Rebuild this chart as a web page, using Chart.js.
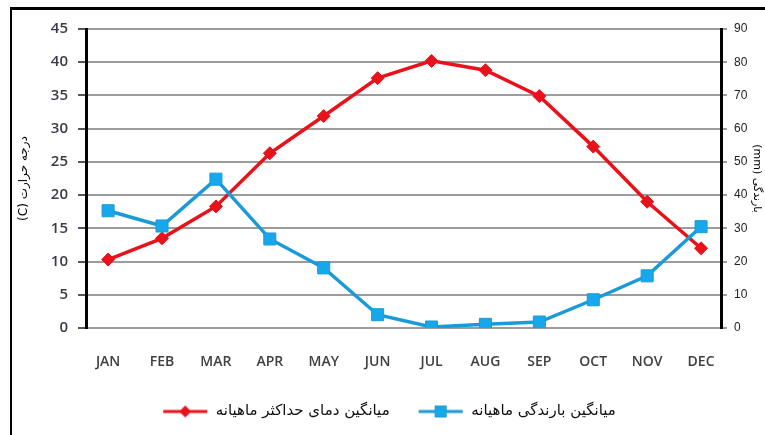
<!DOCTYPE html>
<html>
<head>
<meta charset="utf-8">
<script src="https://cdn.jsdelivr.net/npm/chart.js@4"></script>
<style>
  html, body { margin: 0; padding: 0; background: #fff; overflow: hidden; }
  #frame { position: absolute; left: 10px; top: 7px; width: 800px; height: 500px;
           border-left: 2px solid #000; border-top: 3px solid #000; }
  #wrap { position: absolute; left: 0; top: 0; width: 765px; height: 435px; }
</style>
</head>
<body>
<div id="frame"></div>
<div id="wrap"><canvas id="chart"></canvas></div>
<script>
'use strict';

const months = ['JAN', 'FEB', 'MAR', 'APR', 'MAY', 'JUN', 'JUL', 'AUG', 'SEP', 'OCT', 'NOV', 'DEC'];
const maxTemp = [10.3, 13.5, 18.3, 26.3, 31.9, 37.6, 40.2, 38.8, 34.9, 27.3, 19.0, 12.0];
const rainfall = [35.3, 30.7, 44.8, 26.8, 18.1, 4.0, 0.3, 1.1, 1.8, 8.5, 15.7, 30.5];
const tempTicks = [0, 45, 5];
const rainTicks = [0, 90, 10];

const tempLabel = 'میانگین دمای حداکثر ماهیانه';
const rainLabel = 'میانگین بارندگی ماهیانه';

const RED = '#e8121b';
const BLUE = '#1b9ad8';
const BLUE_FILL = '#17a8ec';

// legend swatch: short line with the marker on it
function swatch(color, fill, shape) {
  const c = document.createElement('canvas');
  c.width = 46; c.height = 14;
  const g = c.getContext('2d');
  g.strokeStyle = color;
  g.lineWidth = 3;
  g.beginPath(); g.moveTo(1, 7); g.lineTo(45, 7); g.stroke();
  g.fillStyle = fill;
  if (shape === 'diamond') {
    g.beginPath(); g.moveTo(23, 1); g.lineTo(29, 7); g.lineTo(23, 13); g.lineTo(17, 7); g.closePath(); g.fill();
  } else {
    g.fillRect(17, 1, 12, 12);
    g.strokeStyle = color; g.lineWidth = 1; g.strokeRect(17.5, 1.5, 11, 11);
  }
  return c;
}

const ctx = document.getElementById('chart').getContext('2d');
new Chart(ctx, {
  type: 'line',
  data: {
    labels: months,
    datasets: [{
      label: tempLabel,
      data: maxTemp,
      yAxisID: 'y',
      borderColor: RED,
      backgroundColor: RED,
      borderWidth: 3.5,
      pointStyle: 'rectRot',
      pointRadius: 6.5,
      pointHoverRadius: 6.5,
      pointBorderWidth: 1,
      order: 1,
      legendSwatch: swatch(RED, RED, 'diamond')
    }, {
      label: rainLabel,
      data: rainfall,
      yAxisID: 'y1',
      borderColor: BLUE,
      backgroundColor: BLUE_FILL,
      borderWidth: 3.5,
      pointStyle: 'rect',
      pointRadius: 8.5,
      pointHoverRadius: 8.5,
      pointBorderWidth: 1,
      order: 0,
      legendSwatch: swatch(BLUE, BLUE_FILL, 'square')
    }]
  },
  options: {
    responsive: true,
    maintainAspectRatio: false,
    animation: false,
    layout: { padding: { left: 13, right: 0, top: 29, bottom: 6 } },
    scales: {
      x: {
        offset: true,
        grid: { display: false },
        border: { display: false },
        ticks: { color: '#404040', padding: 18, font: { family: 'Open Sans', size: 14, weight: '600' } },
        afterFit: axis => { axis.height = 48; },
        // the original leaves a bit less room at the ends than half a category
        afterBuildTicks: axis => { axis._startValue = -0.41; axis._valueRange = 11.78; }
      },
      y: {
        position: 'left',
        min: tempTicks[0],
        max: tempTicks[1],
        ticks: { stepSize: tempTicks[2], color: '#3a3a4a', padding: 10, font: { family: 'Open Sans', size: 15, weight: '600' } },
        grid: { color: '#9c9c9c', lineWidth: 2, tickLength: 8, tickColor: '#555' },
        border: { display: true, color: '#000', width: 3 },
        title: { display: true, text: '(C) درجه حرارت', color: '#000', padding: { top: 4, bottom: 6 },
                 font: { family: 'DejaVu Sans', size: 12 } },
        afterFit: axis => { axis.width = 73; }
      },
      y1: {
        position: 'right',
        min: rainTicks[0],
        max: rainTicks[1],
        ticks: { stepSize: rainTicks[2], color: '#222', padding: 7, font: { family: 'Liberation Sans', size: 12 } },
        grid: { drawOnChartArea: false, color: '#9c9c9c', lineWidth: 2, tickLength: 6 },
        border: { display: true, color: '#000', width: 3 },
        title: { display: true, text: '(mm) بارندگی', color: '#000', padding: 2,
                 font: { family: 'DejaVu Sans', size: 11 } },
        afterFit: axis => { axis.width = 44; }
      }
    },
    plugins: {
      tooltip: { enabled: false },
      legend: {
        position: 'bottom',
        labels: {
          usePointStyle: true,
          pointStyleWidth: 46,
          padding: 28,
          color: '#111',
          font: { family: 'DejaVu Sans', size: 15 },
          sort: (a, b) => a.datasetIndex - b.datasetIndex,
          generateLabels: chart => chart.data.datasets.map((ds, i) => ({
            text: ds.label,
            datasetIndex: i,
            pointStyle: ds.legendSwatch,
            fillStyle: ds.backgroundColor,
            strokeStyle: ds.borderColor,
            lineWidth: 0,
            hidden: false,
            fontColor: '#111'
          }))
        }
      }
    }
  }
});
</script>
</body>
</html>
